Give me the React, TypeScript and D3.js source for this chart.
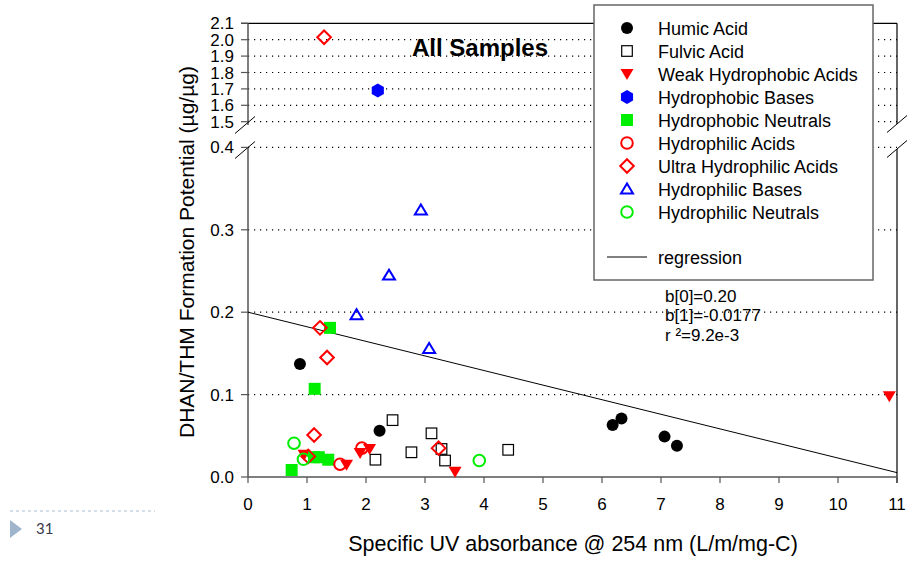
import React from "react";
import * as d3 from "d3";

type Pt = [number, number];

// ---- Data (x = SUVA, y = DHAN/THM) ----
const humicAcid: Pt[] = [[0.88, 0.137], [2.23, 0.056], [6.18, 0.063], [6.33, 0.071], [7.06, 0.049], [7.27, 0.038]];
const fulvicAcid: Pt[] = [[2.45, 0.069], [3.11, 0.053], [2.77, 0.030], [2.16, 0.021], [3.28, 0.034], [3.34, 0.020], [4.41, 0.033]];
const weakHpoAcids: Pt[] = [[10.87, 0.098], [3.51, 0.0065], [1.67, 0.015], [1.90, 0.029], [2.06, 0.034], [0.95, 0.027]];
const hpoBases: Pt[] = [[2.20, 1.69]];
const hpoNeutrals: Pt[] = [[0.74, 0.0085], [1.12, 0.024], [1.20, 0.024], [1.36, 0.021], [1.13, 0.107], [1.39, 0.181]];
const hpiAcids: Pt[] = [[1.56, 0.0155], [1.93, 0.035]];
const ultraHpiAcids: Pt[] = [[1.29, 2.015], [1.22, 0.181], [1.34, 0.145], [1.12, 0.051], [1.02, 0.025], [3.23, 0.035]];
const hpiBases: Pt[] = [[1.84, 0.197], [2.39, 0.245], [2.93, 0.324], [3.07, 0.156]];
const hpiNeutrals: Pt[] = [[0.78, 0.041], [0.94, 0.0215], [3.92, 0.020]];

const seriesNames = [
  "Humic Acid", "Fulvic Acid", "Weak Hydrophobic Acids", "Hydrophobic Bases", "Hydrophobic Neutrals",
  "Hydrophilic Acids", "Ultra Hydrophilic Acids", "Hydrophilic Bases", "Hydrophilic Neutrals",
];
const seriesData: Pt[][] = [humicAcid, fulvicAcid, weakHpoAcids, hpoBases, hpoNeutrals, hpiAcids, ultraHpiAcids, hpiBases, hpiNeutrals];

const xTicks = [0, 1, 2, 3, 4, 5, 6, 7, 8, 9, 10, 11];
const lowerTicks = [0, 0.1, 0.2, 0.3, 0.4];
const upperTicks = [1.5, 1.6, 1.7, 1.8, 1.9, 2.0, 2.1];

const regB0 = 0.2;
const regB1 = -0.0177;
const regText = ["b[0]=0.20", "b[1]=-0.0177", "r ²=9.2e-3"];

const RED = "#ff0000";
const BLUE = "#0000ff";
const GREEN = "#00ee00";

type Style = { kind: string; color: string; fill: boolean };
const styles: Style[] = [
  { kind: "circle", color: "#000", fill: true },
  { kind: "square", color: "#000", fill: false },
  { kind: "down", color: RED, fill: true },
  { kind: "hex", color: BLUE, fill: true },
  { kind: "square", color: GREEN, fill: true },
  { kind: "circle", color: RED, fill: false },
  { kind: "diamond", color: RED, fill: false },
  { kind: "up", color: BLUE, fill: false },
  { kind: "circle", color: GREEN, fill: false },
];

function Marker({ s, cx, cy }: { s: Style; cx: number; cy: number }) {
  const fill = s.fill ? s.color : "none";
  const stroke = s.color;
  const sw = s.fill ? 0 : s.color === "#000" ? 1.2 : 2;
  switch (s.kind) {
    case "circle":
      return <circle cx={cx} cy={cy} r={s.fill ? 6 : 5.8} fill={fill} stroke={stroke} strokeWidth={sw} />;
    case "square": {
      const h = s.fill ? 6 : 5.3;
      return <rect x={cx - h} y={cy - h} width={2 * h} height={2 * h} fill={fill} stroke={stroke} strokeWidth={sw} />;
    }
    case "down":
      return <path d={`M${cx - 6.5},${cy - 5} L${cx + 6.5},${cy - 5} L${cx},${cy + 6} Z`} fill={fill} />;
    case "up":
      return <path d={`M${cx - 6},${cy + 4.5} L${cx + 6},${cy + 4.5} L${cx},${cy - 5.5} Z`} fill={fill} stroke={stroke} strokeWidth={sw} strokeLinejoin="miter" />;
    case "diamond":
      return <path d={`M${cx},${cy - 6.8} L${cx + 6.8},${cy} L${cx},${cy + 6.8} L${cx - 6.8},${cy} Z`} fill={fill} stroke={stroke} strokeWidth={sw} />;
    case "hex": {
      const r = 7;
      const pts = d3.range(6).map((i) => {
        const a = (Math.PI / 3) * i + Math.PI / 6;
        return `${cx + r * Math.cos(a)},${cy + r * Math.sin(a)}`;
      });
      return <polygon points={pts.join(" ")} fill={fill} />;
    }
  }
  return null;
}

export default function App() {
  const W = 907, H = 561;
  const x = d3.scaleLinear().domain([0, 11]).range([248, 897]);
  const yLo = d3.scaleLinear().domain([0, 0.4]).range([477, 147.4]);
  const yHi = d3.scaleLinear().domain([1.5, 2.1]).range([121.7, 23.3]);
  const yOf = (v: number) => (v >= 1 ? yHi(v) : yLo(v));
  const left = x(0), right = x(11);
  const font = "Arial, 'Liberation Sans', Helvetica, sans-serif";
  const axisColor = "#555";

  const regLine = d3.line<number>().x((d) => x(d)).y((d) => yLo(regB0 + regB1 * d));

  const slash = (cx: number, cy: number, k: string) => (
    <line key={k} x1={cx - 10} y1={cy + 8.5} x2={cx + 10} y2={cy - 8.5} stroke="#000" strokeWidth={1} />
  );

  const legendRowsY = [28, 51, 74, 97, 120, 143, 166, 189, 212];

  return (
    <svg width={W} height={H} style={{ position: "absolute", left: 0, top: 0, background: "#fff" }} fontFamily={font}>
      <rect x={0} y={0} width={W} height={H} fill="#fff" />

      {/* grid */}
      {lowerTicks.filter((t) => t > 0).map((t) => (
        <line key={"gl" + t} x1={left} x2={right} y1={yLo(t)} y2={yLo(t)} stroke="#000" strokeWidth={1.2} strokeDasharray="1.2,4.8" />
      ))}
      {upperTicks.filter((t) => t < 2.05).map((t) => (
        <line key={"gu" + t} x1={left} x2={right} y1={yHi(t)} y2={yHi(t)} stroke="#000" strokeWidth={1.2} strokeDasharray="1.2,4.8" />
      ))}

      {/* frame */}
      <line x1={left - 7} x2={right} y1={yHi(2.1)} y2={yHi(2.1)} stroke="#000" strokeWidth={1.2} />
      <line x1={left} x2={left} y1={yHi(2.1)} y2={125} stroke={axisColor} strokeWidth={1.5} />
      <line x1={left} x2={left} y1={148} y2={yLo(0)} stroke={axisColor} strokeWidth={1.5} />
      <line x1={right} x2={right} y1={yHi(2.1)} y2={124} stroke="#000" strokeWidth={1.2} />
      <line x1={right} x2={right} y1={149} y2={yLo(0) + 6} stroke="#000" strokeWidth={1.2} />
      <line x1={left} x2={right} y1={yLo(0)} y2={yLo(0)} stroke={axisColor} strokeWidth={1.5} />
      {slash(left - 3, 125, "s1")}
      {slash(left - 3, 150, "s2")}
      {slash(right, 124, "s3")}
      {slash(right, 149, "s4")}

      {/* y ticks */}
      {lowerTicks.map((t) => (
        <g key={"tl" + t}>
          <line x1={left - 7} x2={left} y1={yLo(t)} y2={yLo(t)} stroke={axisColor} strokeWidth={1.2} />
          <text x={234} y={yLo(t) + 6} fontSize={17} textAnchor="end">{t.toFixed(1)}</text>
        </g>
      ))}
      {upperTicks.map((t) => (
        <g key={"tu" + t}>
          <line x1={left - 7} x2={left} y1={yHi(t)} y2={yHi(t)} stroke={axisColor} strokeWidth={1.2} />
          <text x={234} y={yHi(t) + 6} fontSize={17} textAnchor="end">{t.toFixed(1)}</text>
        </g>
      ))}

      {/* x ticks */}
      {xTicks.map((t) => (
        <g key={"tx" + t}>
          <line x1={x(t)} x2={x(t)} y1={yLo(0)} y2={yLo(0) + 6} stroke={axisColor} strokeWidth={1.2} />
          <text x={x(t)} y={510} fontSize={17} textAnchor="middle">{t}</text>
        </g>
      ))}

      {/* regression */}
      <path d={regLine([0, 11]) || ""} fill="none" stroke="#000" strokeWidth={1} />

      {/* points */}
      {seriesData.map((pts, si) => (
        <g key={"s" + si}>
          {pts.map((p, i) => (
            <Marker key={i} s={styles[si]} cx={x(p[0])} cy={yOf(p[1])} />
          ))}
        </g>
      ))}

      {/* title */}
      <text x={480} y={56} fontSize={24} fontWeight="bold" textAnchor="middle">All Samples</text>

      {/* regression text */}
      {regText.map((t, i) => (
        <text key={t} x={665} y={302 + i * 19.3} fontSize={17}>{t}</text>
      ))}

      {/* legend */}
      <rect x={594} y={5} width={279} height={275} fill="#fff" stroke="#666" strokeWidth={1.5} />
      {seriesNames.map((n, i) => (
        <g key={n}>
          <Marker s={styles[i]} cx={627} cy={legendRowsY[i]} />
          <text x={658} y={legendRowsY[i] + 6.5} fontSize={18}>{n}</text>
        </g>
      ))}
      <line x1={607} x2={647} y1={257} y2={257} stroke="#000" strokeWidth={1} />
      <text x={658} y={263.5} fontSize={18}>regression</text>

      {/* axis titles */}
      <text x={573} y={551} fontSize={21.5} textAnchor="middle">Specific UV absorbance @ 254 nm (L/m/mg-C)</text>
      <text transform="translate(194,252) rotate(-90)" fontSize={21} textAnchor="middle">DHAN/THM Formation Potential (µg/µg)</text>

      {/* footer */}
      <line x1={10} x2={155} y1={511} y2={511} stroke="#a8bdd2" strokeWidth={1} strokeDasharray="3,3" />
      <path d="M10,520 L22,529 L10,538 Z" fill="#9fb5cc" />
      <text x={36} y={534} fontSize={15} fill="#3a3a4a" fontFamily="Lato, 'Open Sans', sans-serif">31</text>
    </svg>
  );
}
